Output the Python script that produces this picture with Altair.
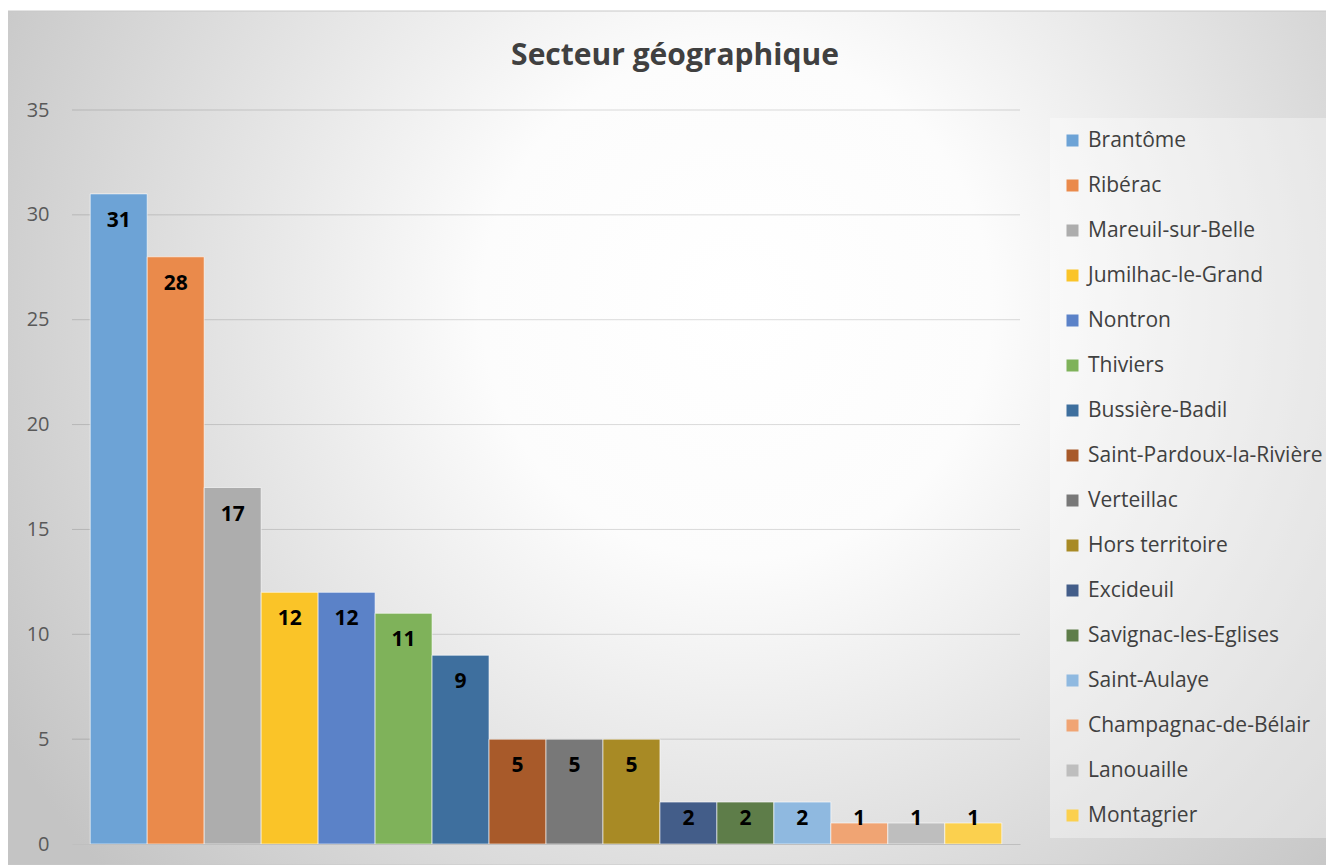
import altair as alt
import pandas as pd

secteurs = ["Brantôme", "Ribérac", "Mareuil-sur-Belle", "Jumilhac-le-Grand", "Nontron",
            "Thiviers", "Bussière-Badil", "Saint-Pardoux-la-Rivière", "Verteillac",
            "Hors territoire", "Excideuil", "Savignac-les-Eglises", "Saint-Aulaye",
            "Champagnac-de-Bélair", "Lanouaille", "Montagrier"]
valeurs = [31, 28, 17, 12, 12, 11, 9, 5, 5, 5, 2, 2, 2, 1, 1, 1]
couleurs = ["#6DA3D6", "#EA8A4B", "#ADADAD", "#FAC428", "#5B82C8", "#7FB25A",
            "#3E6F9E", "#A85A2A", "#787878", "#A88A25", "#435D89", "#5E7D49",
            "#8FB9E0", "#F0A473", "#BEBEBE", "#FBD04E"]
graduations = [5, 10, 15, 20, 25, 30, 35]
ticks_y = [0, 5, 10, 15, 20, 25, 30, 35]

df = pd.DataFrame({"secteur": secteurs, "valeur": valeurs})
grid_df = pd.DataFrame({"g": graduations})

W, H = 948, 734
FONT = "Open Sans"

bg_gradient = {
    "gradient": "radial",
    "x1": 0.55, "y1": 0.4, "r1": 0.0,
    "x2": 0.55, "y2": 0.4, "r2": 0.64,
    "stops": [
        {"offset": 0.0, "color": "#ffffff"},
        {"offset": 0.3, "color": "#fcfcfc"},
        {"offset": 1.0, "color": "#c4c4c4"},
    ],
}

yaxis = alt.Axis(values=ticks_y, title=None, domain=False, ticks=False, grid=False,
                 labelPadding=23, zindex=1, labelFontSize=20, labelColor="#595959",
                 labelFont=FONT)
yscale = alt.Scale(domain=[0, 35])

background = alt.Chart(pd.DataFrame({"a": [0]})).mark_rect(
    color=bg_gradient, stroke="#c8c8c8", strokeWidth=1
).encode(
    x=alt.value(-65), x2=alt.value(W + 313),
    y=alt.value(-99), y2=alt.value(H + 21),
)

grid = alt.Chart(grid_df).mark_rule(color="#000000", opacity=0.14, strokeWidth=1).encode(
    y=alt.Y("g:Q", scale=yscale, axis=yaxis),
    x=alt.value(0), x2=alt.value(W),
)

xenc = alt.X("secteur:N", sort=secteurs,
             scale=alt.Scale(paddingInner=0, paddingOuter=0.32),
             axis=alt.Axis(labels=False, ticks=False, title=None, zindex=1,
                           domainColor="#bfbfbf", domainWidth=1))

bars = alt.Chart(df).mark_bar(stroke="#ffffff", strokeOpacity=0.6, strokeWidth=1).encode(
    x=xenc,
    y=alt.Y("valeur:Q", scale=yscale, axis=yaxis),
    color=alt.Color("secteur:N", sort=secteurs,
                    scale=alt.Scale(domain=secteurs, range=couleurs),
                    legend=alt.Legend(title=None, orient="none", legendX=978, legendY=8,
                                      symbolType="square", symbolSize=144,
                                      symbolStrokeWidth=0,
                                      labelFontSize=21, labelColor="#404040", labelFont=FONT,
                                      rowPadding=23, padding=12,
                                      fillColor="rgba(255,255,255,0.35)",
                                      labelLimit=400, labelOffset=5)),
)

labels = alt.Chart(df).transform_calculate(
    pos="max(datum.valeur - 1.29, 1.19)"
).mark_text(fontSize=21, fontWeight="bold", font=FONT, color="#000000",
            baseline="middle").encode(
    x=xenc,
    y=alt.Y("pos:Q", scale=yscale, axis=yaxis),
    text=alt.Text("valeur:Q"),
)

chart = alt.layer(background, grid, bars, labels).properties(
    width=W, height=H,
    title=alt.TitleParams("Secteur géographique", fontSize=30, fontWeight="bold",
                          font=FONT, color="#404040", anchor="middle", dx=129,
                          frame="group", offset=-60),
    autosize=alt.AutoSizeParams(type="none"),
    padding={"left": 64, "top": 102, "right": 306, "bottom": 21},
).configure_view(stroke=None).configure(background="#ffffff")

chart.save("out.html", embed_options={"renderer": "svg", "actions": False})
